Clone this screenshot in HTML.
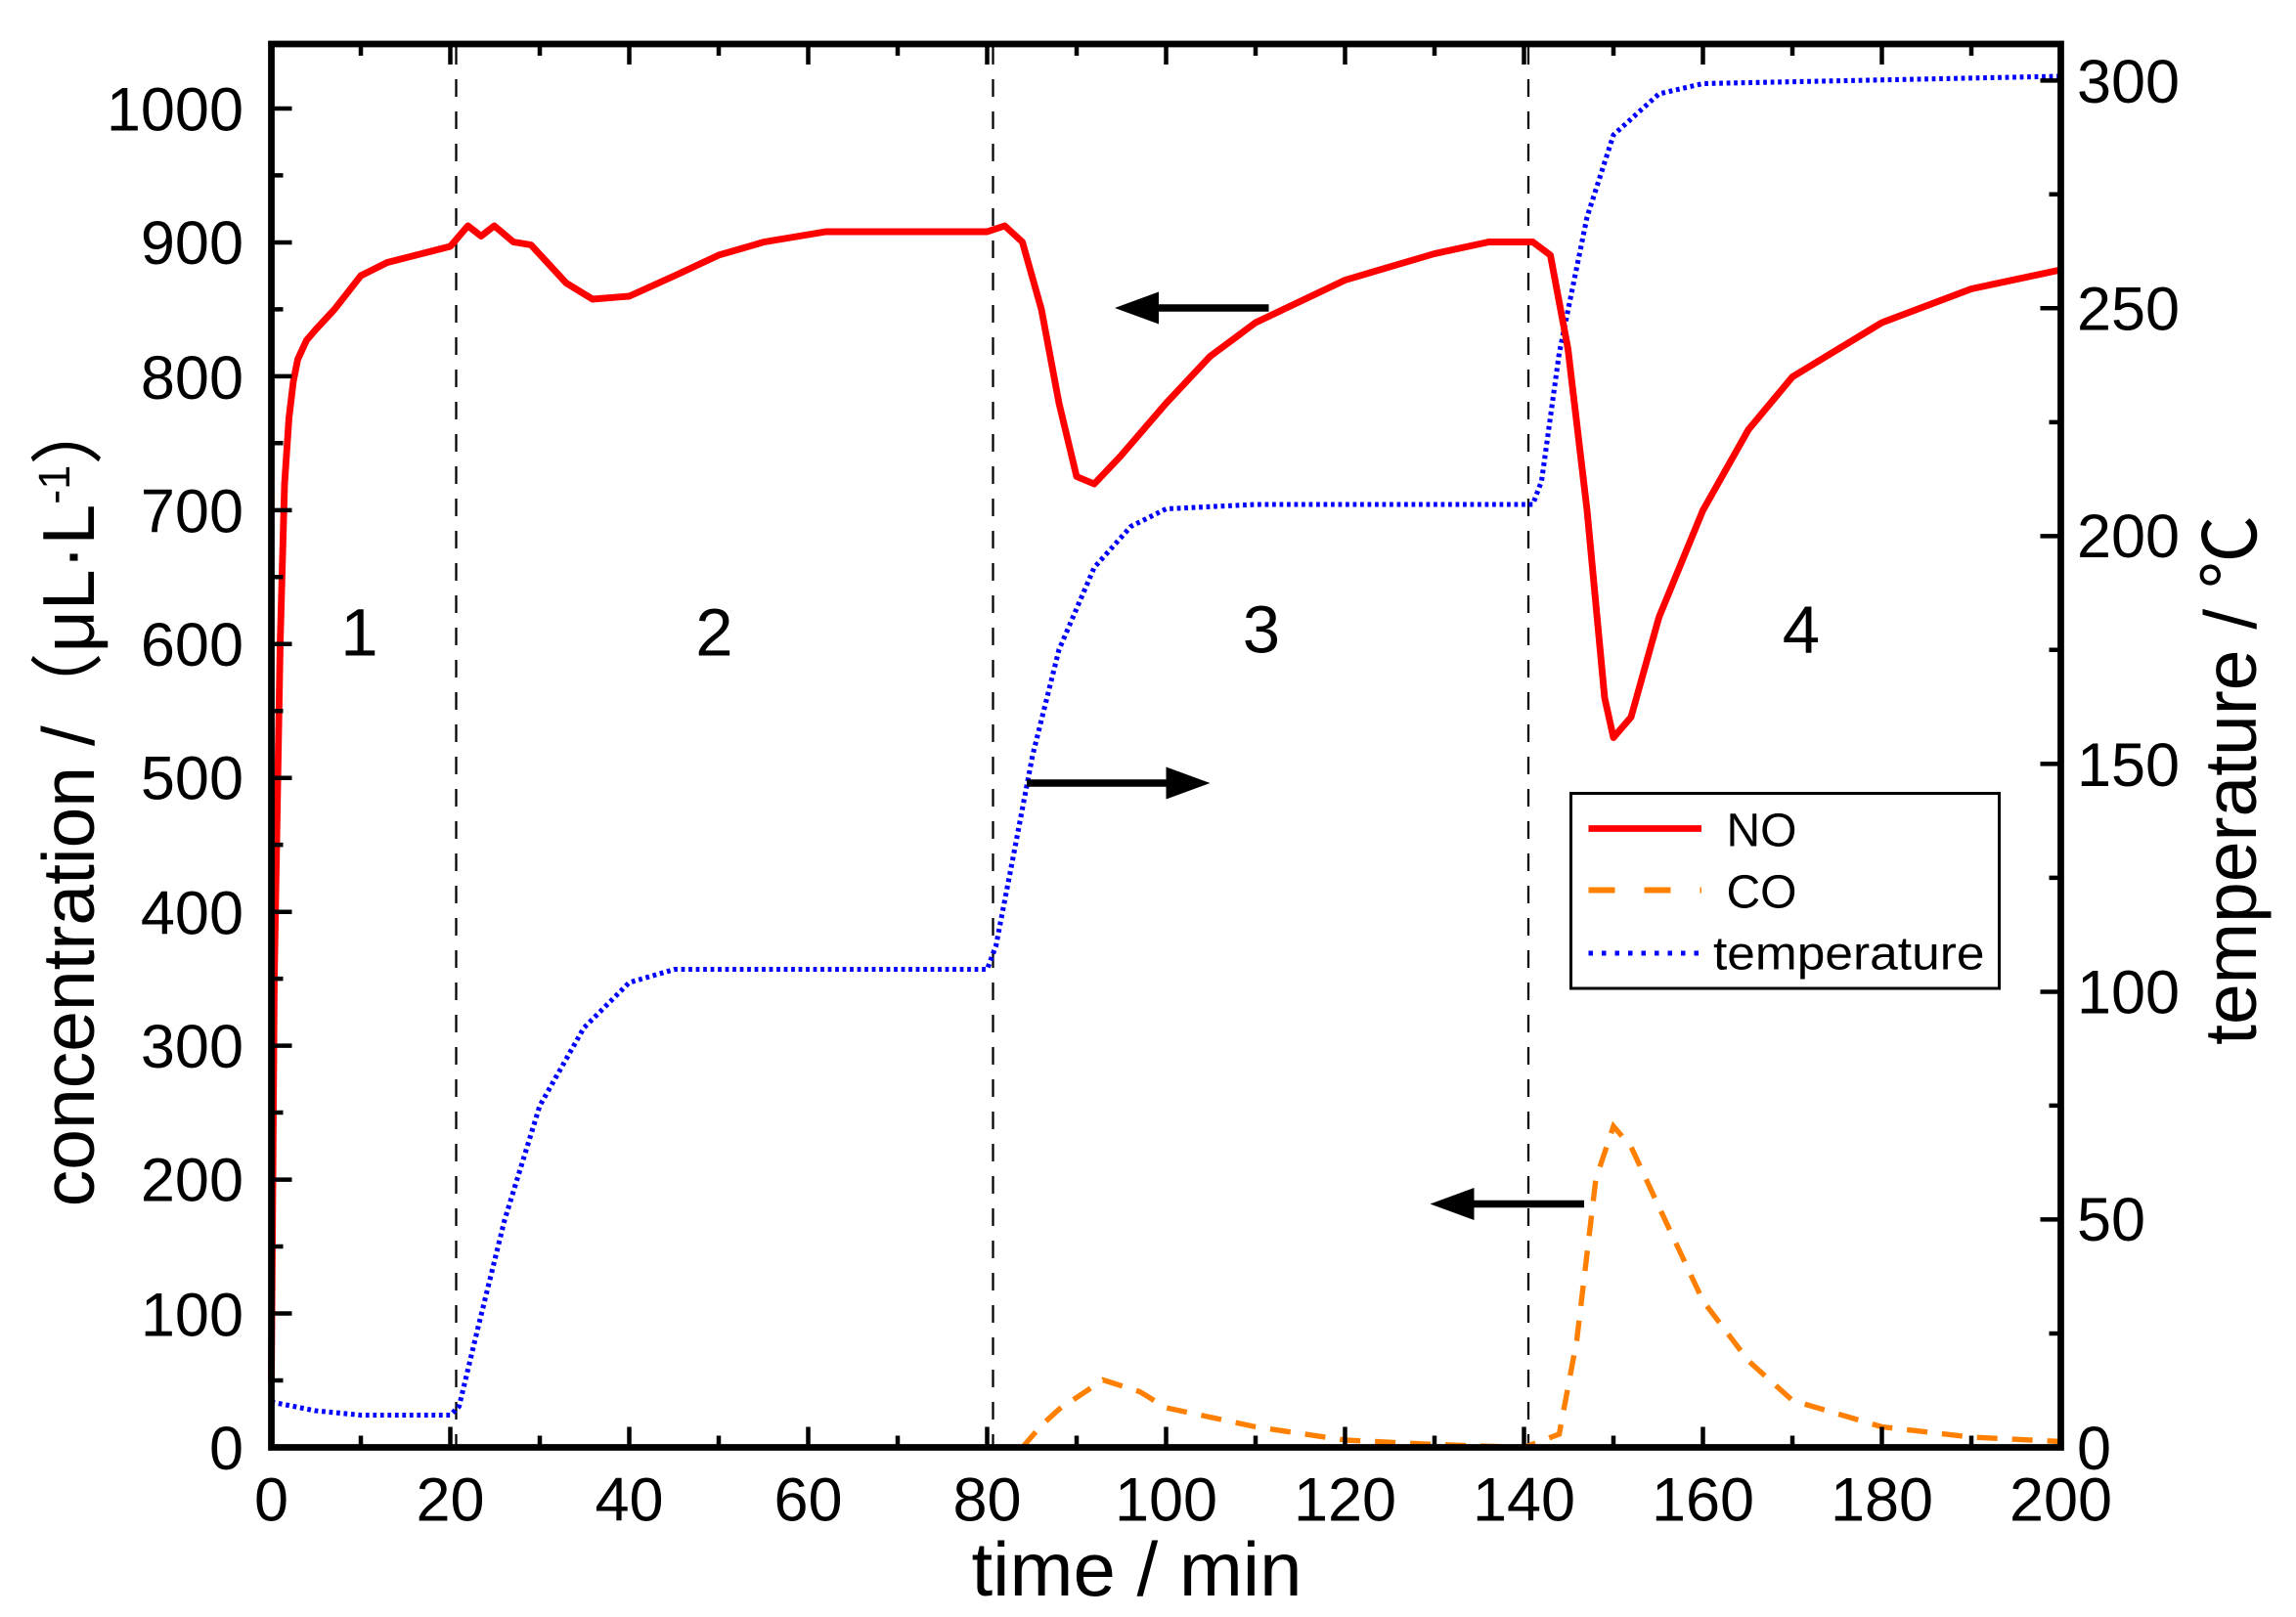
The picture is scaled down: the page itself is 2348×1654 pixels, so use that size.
<!DOCTYPE html>
<html><head><meta charset="utf-8"><style>html,body{margin:0;padding:0;background:#fff}svg{display:block}</style></head>
<body>
<svg width="2348" height="1654" viewBox="0 0 1565.33 1102.67" xmlns="http://www.w3.org/2000/svg" font-family="Liberation Sans, Noto Sans CJK SC, sans-serif">
<defs><marker id="ah" markerWidth="6" markerHeight="6" refX="3" refY="3" orient="auto" markerUnits="strokeWidth"><path d="M0,0.8 L6,3 L0,5.2 Z" fill="#000"/></marker></defs>
<rect width="1565.33" height="1102.67" fill="#fff"/>
<g stroke="#000" stroke-width="1.5" stroke-dasharray="12 10">
<line x1="311" y1="32" x2="311" y2="985"/><line x1="677" y1="32" x2="677" y2="985"/><line x1="1042" y1="32" x2="1042" y2="985"/>
</g>
<polyline fill="none" stroke="#0000ff" stroke-width="3.4" stroke-dasharray="2.5 2.5" points="185,956 215,962 246,965 307,965 313,959 325,909 344,832 368,754 398,701 429,670 460,661 673,661 679,645 691,583 704,515 722,443 746,387 771,359 795,347 856,344 1045,344 1051,328 1063,241 1082,148 1100,92 1131,64 1161,57 1405,52"/>
<polyline fill="none" stroke="#ff8000" stroke-width="3.6" stroke-dasharray="14 10" points="697,987 710,972 722,961 752,941 777,949 795,960 856,973 917,982 978,985 1039,987 1063,978 1075,914 1088,804 1100,768 1112,782 1131,823 1161,887 1192,928 1222,955 1283,973 1344,980 1405,983"/>
<polyline fill="none" stroke="#ff0000" stroke-width="4.6" stroke-linejoin="round" points="185,942 187,667 191,439 194,330 197,285 200,260 203,245 209,232 215,225 228,211 246,188 264,179 307,168 319,154 328,161 337,154 350,165 362,167 386,193 404,204 429,202 460,188 490,174 521,165 563,158 673,158 685,154 697,165 710,211 722,275 734,325 746,330 764,311 795,275 825,243 856,220 917,191 978,173 1015,165 1045,165 1057,174 1069,238 1082,348 1094,476 1100,503 1112,489 1131,421 1161,348 1192,293 1222,257 1283,220 1344,197 1405,184"/>
<g stroke="#000" stroke-width="5">
<line x1="865" y1="210" x2="775" y2="210" marker-end="url(#ah)"/>
<line x1="700" y1="534" x2="810" y2="534" marker-end="url(#ah)"/>
<line x1="1080" y1="821" x2="990" y2="821" marker-end="url(#ah)"/>
</g>
<g stroke="#000" stroke-width="3">
<path d="M185,987v-14M246,987v-8M307,987v-14M368,987v-8M429,987v-14M490,987v-8M551,987v-14M612,987v-8M673,987v-14M734,987v-8M795,987v-14M856,987v-8M917,987v-14M978,987v-8M1039,987v-14M1100,987v-8M1161,987v-14M1222,987v-8M1283,987v-14M1344,987v-8"/>
<path d="M185,30v14M246,30v8M307,30v14M368,30v8M429,30v14M490,30v8M551,30v14M612,30v8M673,30v14M734,30v8M795,30v14M856,30v8M917,30v14M978,30v8M1039,30v14M1100,30v8M1161,30v14M1222,30v8M1283,30v14M1344,30v8"/>
<path d="M185,895.7h14M185,804.4h14M185,713.1h14M185,621.8h14M185,530.5h14M185,439.2h14M185,347.9h14M185,256.6h14M185,165.3h14M185,74h14M185,941.3h8M185,850h8M185,758.7h8M185,667.4h8M185,576.1h8M185,484.8h8M185,393.5h8M185,302.2h8M185,210.9h8M185,119.6h8"/>
<path d="M1405,831.6h-14M1405,676.3h-14M1405,520.9h-14M1405,365.6h-14M1405,210.2h-14M1405,54.9h-14M1405,909.3h-8M1405,753.9h-8M1405,598.6h-8M1405,443.2h-8M1405,287.9h-8M1405,132.5h-8"/>
</g>
<rect x="185" y="30" width="1220" height="957" fill="none" stroke="#000" stroke-width="4.5"/>
<g font-size="42" text-anchor="middle">
<text x="185" y="1037">0</text><text x="307" y="1037">20</text><text x="429" y="1037">40</text><text x="551" y="1037">60</text><text x="673" y="1037">80</text><text x="795" y="1037">100</text><text x="917" y="1037">120</text><text x="1039" y="1037">140</text><text x="1161" y="1037">160</text><text x="1283" y="1037">180</text><text x="1405" y="1037">200</text>
</g>
<g font-size="42" text-anchor="end">
<text x="166" y="1002">0</text><text x="166" y="911">100</text><text x="166" y="819">200</text><text x="166" y="728">300</text><text x="166" y="637">400</text><text x="166" y="545">500</text><text x="166" y="454">600</text><text x="166" y="363">700</text><text x="166" y="272">800</text><text x="166" y="180">900</text><text x="166" y="89">1000</text>
</g>
<g font-size="42" text-anchor="start">
<text x="1416" y="1002">0</text><text x="1416" y="846">50</text><text x="1416" y="691">100</text><text x="1416" y="536">150</text><text x="1416" y="380">200</text><text x="1416" y="225">250</text><text x="1416" y="70">300</text>
</g>
<text x="775" y="1088" font-size="52" text-anchor="middle">time / min</text>
<text transform="translate(64,545) rotate(-90)" font-size="50" text-anchor="middle">concentration /（μL·L<tspan baseline-shift="super" font-size="30">-1</tspan>）</text>
<text transform="translate(1538,532) rotate(-90)" font-size="50" text-anchor="middle">temperature / ℃</text>
<g font-size="46" text-anchor="middle">
<text x="245" y="447">1</text><text x="487" y="447">2</text><text x="860" y="445">3</text><text x="1228" y="445">4</text>
</g>
<rect x="1071" y="541" width="292" height="133" fill="#fff" stroke="#000" stroke-width="2"/>
<line x1="1083" y1="565" x2="1160" y2="565" stroke="#ff0000" stroke-width="4.5"/>
<line x1="1083" y1="607" x2="1160" y2="607" stroke="#ff8000" stroke-width="4" stroke-dasharray="18 20"/>
<line x1="1083" y1="650" x2="1160" y2="650" stroke="#0000ff" stroke-width="3.4" stroke-dasharray="3 6"/>
<g font-size="32">
<text x="1177" y="577">NO</text><text x="1177" y="619">CO</text><text x="1168" y="661" textLength="185" lengthAdjust="spacingAndGlyphs">temperature</text>
</g>
</svg>
</body></html>
